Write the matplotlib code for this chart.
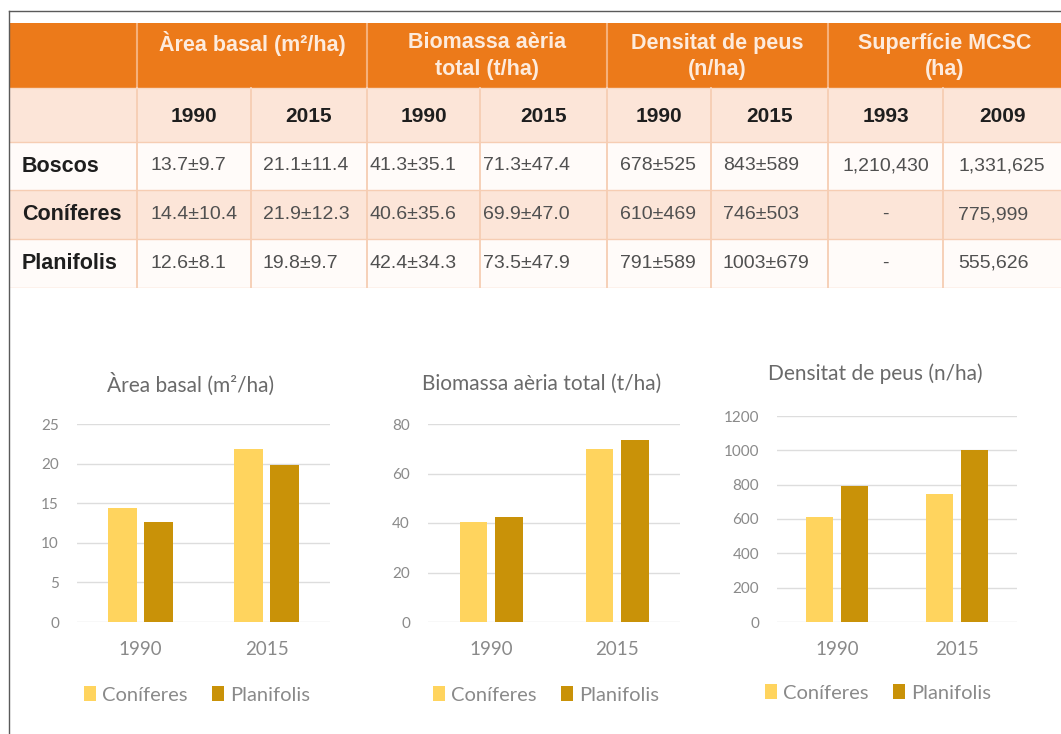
import matplotlib
matplotlib.use("Agg")
import matplotlib.pyplot as plt
from matplotlib.patches import Rectangle
from matplotlib.lines import Line2D
import numpy as np

# ---------------- data ----------------
header_groups = ["Àrea basal (m²/ha)", "Biomassa aèria\ntotal (t/ha)",
                 "Densitat de peus\n(n/ha)", "Superfície MCSC\n(ha)"]
year_labels = ["1990", "2015", "1990", "2015", "1990", "2015", "1993", "2009"]
row_labels = ["Boscos", "Coníferes", "Planifolis"]
row_boscos = ["13.7±9.7", "21.1±11.4", "41.3±35.1", "71.3±47.4",
              "678±525", "843±589", "1,210,430", "1,331,625"]
row_coniferes = ["14.4±10.4", "21.9±12.3", "40.6±35.6", "69.9±47.0",
                 "610±469", "746±503", "-", "775,999"]
row_planifolis = ["12.6±8.1", "19.8±9.7", "42.4±34.3", "73.5±47.9",
                  "791±589", "1003±679", "-", "555,626"]

years = ["1990", "2015"]
series_names = ["Coníferes", "Planifolis"]
area_con = [14.4, 21.9]
area_pla = [12.6, 19.8]
bio_con = [40.6, 69.9]
bio_pla = [42.4, 73.5]
dens_con = [610, 746]
dens_pla = [791, 1003]

chart_titles = ["Àrea basal (m²/ha)", "Biomassa aèria total (t/ha)", "Densitat de peus (n/ha)"]

# ---------------- style ----------------
W, H = 1061, 734
fig = plt.figure(figsize=(W / 100, H / 100), dpi=100)
fig.patch.set_facecolor("white")

ORANGE = "#EC7A1A"
PEACH = "#FCE5D8"
WHITE_ROW = "#FFFBF9"
DIVIDER = "#F6CDB3"
HEAD_TXT = "#FDEBDD"
COL_CON = "#FFD45E"
COL_PLA = "#C99208"
TABLE_FONT = "Liberation Sans"
CHART_FONT = "Lato"


def fx(px):
    return px / W


def fy(py):
    return 1 - py / H


# frame lines
fig.add_artist(Line2D([fx(8.5), fx(1061)], [fy(11), fy(11)], color="#5a5a5a", lw=1.0,
                      transform=fig.transFigure))
fig.add_artist(Line2D([fx(8.5), fx(8.5)], [fy(11), fy(734)], color="#5a5a5a", lw=1.0,
                      transform=fig.transFigure))

# ---------------- table ----------------
col_edges = [9, 137, 251, 367, 480, 607, 711, 828, 943, 1061]
row_edges = [23, 88, 142, 190, 239, 288]
tx = fig.add_axes([fx(9), fy(288), fx(1061 - 9), (288 - 23) / H])
tx.set_xlim(9, 1061)
tx.set_ylim(288, 23)
tx.axis("off")

tx.add_patch(Rectangle((9, 23), 1061 - 9, 65, color=ORANGE, lw=0))
row_bgs = [PEACH, WHITE_ROW, PEACH, WHITE_ROW]
for i, c in enumerate(row_bgs):
    tx.add_patch(Rectangle((9, row_edges[i + 1]), 1061 - 9,
                           row_edges[i + 2] - row_edges[i + 1], color=c, lw=0))
for k in [1, 3, 5, 7]:
    tx.plot([col_edges[k]] * 2, [23, 88], color="#F6B07A", lw=1.5)
for k in range(1, 9):
    tx.plot([col_edges[k]] * 2, [88, 288], color=DIVIDER, lw=1.3)
for r in row_edges[1:]:
    tx.plot([9, 1061], [r, r], color=DIVIDER if r != 88 else "#F8D9C4", lw=1.0)

for g, lab in enumerate(header_groups):
    cx = (col_edges[1 + 2 * g] + col_edges[3 + 2 * g]) / 2
    for li, line in enumerate(lab.split("\n")):
        tx.text(cx, 43 + 26 * li, line, ha="center", va="center", color=HEAD_TXT,
                fontsize=15.5, fontweight="bold", family=TABLE_FONT)
for j, y in enumerate(year_labels):
    cx = (col_edges[j + 1] + col_edges[j + 2]) / 2
    tx.text(cx, 116, y, ha="center", va="center", color="#1e1e1e",
            fontsize=15, fontweight="bold", family=TABLE_FONT)
data_x = [150, 263, 369, 483, 620, 723, None, 958]
rows = [row_boscos, row_coniferes, row_planifolis]
for i, (lab, vals) in enumerate(zip(row_labels, rows)):
    cy = (row_edges[i + 2] + row_edges[i + 3]) / 2
    tx.text(22, cy, lab, ha="left", va="center", color="#1e1e1e",
            fontsize=15.5, fontweight="bold", family=TABLE_FONT)
    for j, v in enumerate(vals):
        if data_x[j] is None:
            cx = (col_edges[j + 1] + col_edges[j + 2]) / 2
            tx.text(cx, cy, v, ha="center", va="center", color="#505050",
                    fontsize=14, family=TABLE_FONT)
        else:
            tx.text(data_x[j], cy, v, ha="left", va="center", color="#505050",
                    fontsize=14, family=TABLE_FONT)

# ---------------- charts ----------------
charts = [
    dict(box=(77, 330, 424, 622), ymax=25, step=5, con=area_con, pla=area_pla,
         title_xy=(191, 384), leg_xy=(197, 695), bw=0.229, gap=0.055),
    dict(box=(428, 680, 424, 622), ymax=80, step=20, con=bio_con, pla=bio_pla,
         title_xy=(542, 384), leg_xy=(546, 695), bw=0.22, gap=0.06),
    dict(box=(777, 1017, 416, 622), ymax=1200, step=200, con=dens_con, pla=dens_pla,
         title_xy=(875, 374), leg_xy=(878, 693), bw=0.225, gap=0.06),
]

for ch, title in zip(charts, chart_titles):
    l, r, t, b = ch["box"]
    ax = fig.add_axes([fx(l), fy(b), fx(r - l), (b - t) / H])
    x = np.arange(len(years))
    off = ch["bw"] / 2 + ch["gap"] / 2
    h1 = ax.bar(x - off, ch["con"], width=ch["bw"], color=COL_CON, label=series_names[0], zorder=3)
    h2 = ax.bar(x + off, ch["pla"], width=ch["bw"], color=COL_PLA, label=series_names[1], zorder=3)
    ax.set_xlim(-0.5, 1.5)
    ax.set_ylim(0, ch["ymax"])
    ax.set_yticks(np.arange(0, ch["ymax"] + 1, ch["step"]))
    ax.set_xticks(x)
    ax.set_xticklabels(years)
    for s in ax.spines.values():
        s.set_visible(False)
    ax.yaxis.grid(True, color="#DDDDDD", lw=1.0, zorder=0)
    ax.set_axisbelow(True)
    ax.tick_params(axis="both", length=0, colors="#8a8a8a")
    ax.tick_params(axis="y", pad=13, labelsize=11)
    ax.tick_params(axis="x", pad=14, labelsize=13.5)
    for lab in ax.get_xticklabels() + ax.get_yticklabels():
        lab.set_family(CHART_FONT)
    ax.set_facecolor("none")
    fig.text(fx(ch["title_xy"][0]), fy(ch["title_xy"][1]), title, ha="center", va="center",
             color="#6a6a6a", fontsize=15, family=CHART_FONT)
    fig.legend(handles=[h1, h2], loc="center", ncol=2,
               bbox_to_anchor=(fx(ch["leg_xy"][0]), fy(ch["leg_xy"][1])),
               frameon=False, handlelength=0.6, handleheight=0.75, handletextpad=0.3,
               columnspacing=1.2, prop=dict(family=CHART_FONT, size=14.5),
               labelcolor="#8a8a8a")

fig.savefig("out.png", dpi=100)
